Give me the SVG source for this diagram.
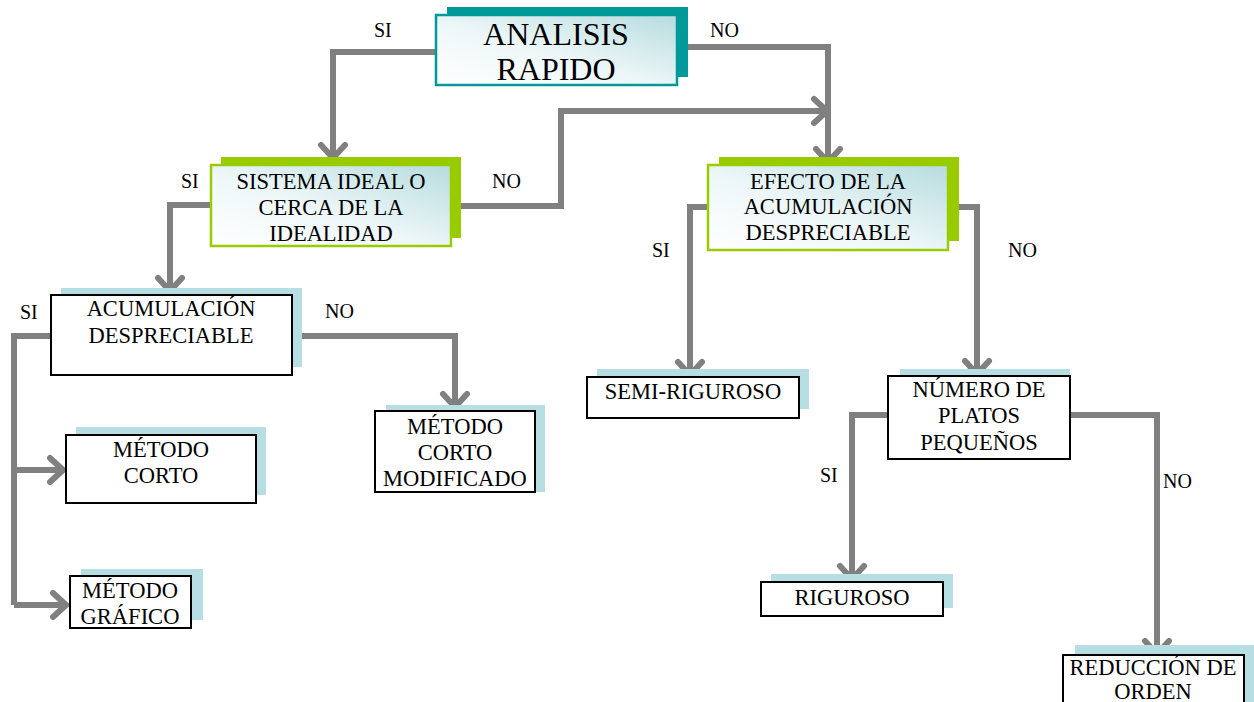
<svg xmlns="http://www.w3.org/2000/svg" width="1254" height="702" viewBox="0 0 1254 702">
<defs>
<linearGradient id="g" x1="0" y1="1" x2="1" y2="0">
<stop offset="0" stop-color="#ffffff"/>
<stop offset="0.45" stop-color="#eef7f8"/>
<stop offset="1" stop-color="#b6dcdf"/>
</linearGradient>
<marker id="ah" markerUnits="userSpaceOnUse" viewBox="-20 -16 24 32" markerWidth="24" markerHeight="32" refX="0" refY="0" orient="auto">
<path d="M-13,-12 L0,0 L-13,12" fill="none" stroke="#808080" stroke-width="6" stroke-linecap="round" stroke-linejoin="miter"/>
</marker>
</defs>
<style>
text{font-family:"Liberation Serif","Times New Roman",Tinos,"DejaVu Serif",serif}
.t{fill:#000;text-anchor:middle}
.n{font-size:22.5px}
.big{font-size:32px}
.lbl{font-size:20px;fill:#000}
.c{fill:none;stroke:#808080;stroke-width:6;marker-end:url(#ah)}
.c0{fill:none;stroke:#808080;stroke-width:6}
.shT{fill:#009999}
.shG{fill:#99cc00}
.shB{fill:#b7dfe3}
.bT{fill:url(#g);stroke:#009999;stroke-width:2.5}
.bG{fill:url(#g);stroke:#99cc00;stroke-width:2.5}
.bK{fill:#fff;stroke:#000;stroke-width:2}
</style>
<rect width="1254" height="702" fill="#fff"/>

<g id="connectors">
<path class="c" d="M435,52 H333 V158"/>
<path class="c" d="M677,47 H828 V162"/>
<path class="c" d="M451,206 H561 V111 H827"/>
<path class="c" d="M211,205 H170 V291"/>
<path class="c0" d="M51,336 H14 V605"/>
<path class="c" d="M14,470 H63"/>
<path class="c" d="M14,605 H66"/>
<path class="c" d="M292,336 H455 V407"/>
<path class="c" d="M708,207 H690 V375"/>
<path class="c" d="M948,207 H977 V374"/>
<path class="c" d="M888,415 H852 V579"/>
<path class="c" d="M1070,415 H1157 V654"/>
<text class="lbl" x="374" y="37">SI</text>
<text class="lbl" x="710" y="37">NO</text>
<text class="lbl" x="492" y="188">NO</text>
<text class="lbl" x="181" y="188">SI</text>
<text class="lbl" x="652" y="257">SI</text>
<text class="lbl" x="1008" y="257">NO</text>
<text class="lbl" x="20" y="319">SI</text>
<text class="lbl" x="325" y="318">NO</text>
<text class="lbl" x="820" y="482">SI</text>
<text class="lbl" x="1163" y="488">NO</text>
</g>

<g id="analisis">
<rect class="shT" x="447" y="7" width="241" height="70"/>
<rect class="bT" x="436" y="15" width="241" height="70"/>
<text class="t big" x="556" y="45">ANALISIS</text>
<text class="t big" x="556" y="80">RAPIDO</text>
</g>

<g id="sistema">
<rect class="shG" x="221" y="157" width="240" height="81"/>
<rect class="bG" x="211" y="165" width="240" height="81"/>
<text class="t n" x="331" y="189">SISTEMA IDEAL O</text>
<text class="t n" x="331" y="215">CERCA DE LA</text>
<text class="t n" x="331" y="241">IDEALIDAD</text>
</g>

<g id="efecto">
<rect class="shG" x="719" y="157" width="240" height="84"/>
<rect class="bG" x="708" y="165" width="240" height="85"/>
<text class="t n" x="828" y="189">EFECTO DE LA</text>
<text class="t n" x="828" y="214">ACUMULACIÓN</text>
<text class="t n" x="828" y="240">DESPRECIABLE</text>
</g>

<g id="acumulacion">
<rect class="shB" x="61" y="288" width="241" height="79"/>
<rect class="bK" x="51" y="295" width="241" height="80"/>
<text class="t n" x="171" y="316">ACUMULACIÓN</text>
<text class="t n" x="171" y="343">DESPRECIABLE</text>
</g>

<g id="metodo-corto">
<rect class="shB" x="76" y="427" width="190" height="68"/>
<rect class="bK" x="66" y="435" width="190" height="68"/>
<text class="t n" x="161" y="457">MÉTODO</text>
<text class="t n" x="161" y="483">CORTO</text>
</g>

<g id="metodo-grafico">
<rect class="shB" x="81" y="569" width="122" height="51"/>
<rect class="bK" x="70" y="576" width="121" height="52"/>
<text class="t n" x="130" y="598">MÉTODO</text>
<text class="t n" x="130" y="624">GRÁFICO</text>
</g>

<g id="metodo-corto-modificado">
<rect class="shB" x="386" y="405" width="159" height="87"/>
<rect class="bK" x="375" y="411" width="160" height="81"/>
<text class="t n" x="455" y="434">MÉTODO</text>
<text class="t n" x="455" y="460">CORTO</text>
<text class="t n" x="455" y="486">MODIFICADO</text>
</g>

<g id="semi-riguroso">
<rect class="shB" x="597" y="369" width="212" height="40"/>
<rect class="bK" x="587" y="377" width="212" height="41"/>
<text class="t n" x="693" y="399">SEMI-RIGUROSO</text>
</g>

<g id="numero-platos">
<rect class="shB" x="900" y="369" width="170" height="86"/>
<rect class="bK" x="888" y="376" width="182" height="83"/>
<text class="t n" x="979" y="397">NÚMERO DE</text>
<text class="t n" x="979" y="423">PLATOS</text>
<text class="t n" x="979" y="450">PEQUEÑOS</text>
</g>

<g id="riguroso">
<rect class="shB" x="771" y="574" width="182" height="34"/>
<rect class="bK" x="761" y="582" width="182" height="34"/>
<text class="t n" x="852" y="605">RIGUROSO</text>
</g>

<g id="reduccion">
<rect class="shB" x="1075" y="645" width="179" height="57"/>
<rect class="bK" x="1063" y="655" width="181" height="60"/>
<text class="t n" x="1153" y="675">REDUCCIÓN DE</text>
<text class="t n" x="1153" y="699">ORDEN</text>
</g>
</svg>
